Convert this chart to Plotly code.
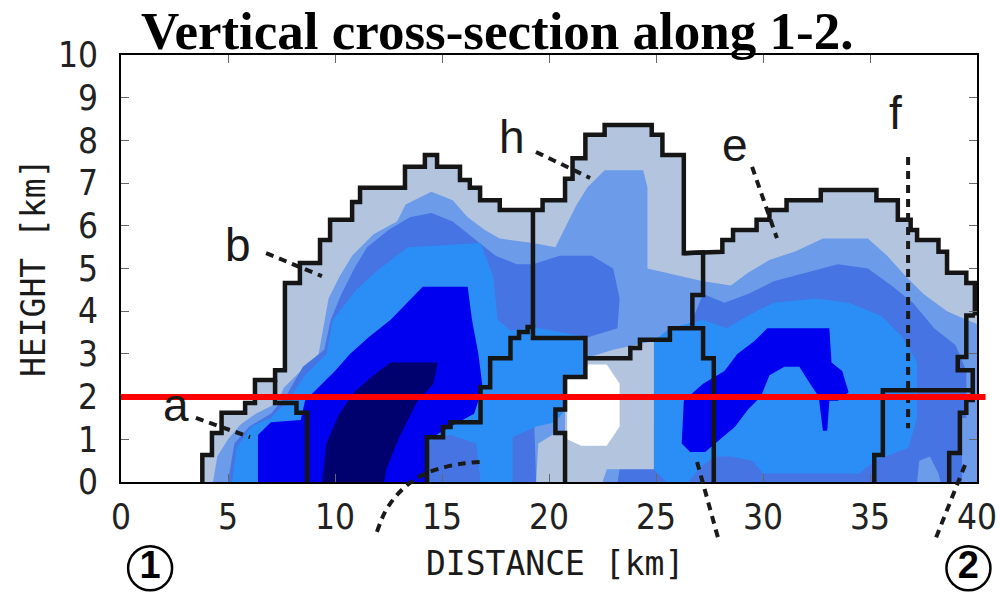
import plotly.graph_objects as go

# ---------------- axes / layout data ----------------
X_RANGE = [0, 40]
Y_RANGE = [0, 10]
X_TICKS = [0, 5, 10, 15, 20, 25, 30, 35, 40]
Y_TICKS = [0, 1, 2, 3, 4, 5, 6, 7, 8, 9, 10]
X_DOMAIN = [0.121, 0.977]
Y_DOMAIN = [1 - 482 / 596, 1 - 55 / 596]

TITLE = "Vertical cross-section along 1-2."
X_TITLE = "DISTANCE [km]"
Y_TITLE = "HEIGHT [km]"

# ---------------- echo field: colour regions (km, height km) ----------------
GREY_ENVELOPE = [(3.8, 0), (3.8, 0.63), (4.25, 0.63), (4.25, 1.15), (4.7, 1.15), (4.7, 1.62),
                 (5.8, 1.62), (5.8, 1.85), (6.26, 1.85), (6.26, 2.39), (7.2, 2.39), (7.2, 2.62),
                 (7.66, 2.62), (7.66, 4.66), (8.36, 4.66), (8.36, 5.13), (9.3, 5.13), (9.3, 5.67),
                 (9.77, 5.67), (9.77, 6.14), (10.8, 6.14), (10.8, 6.56), (11.17, 6.56), (11.17, 6.89),
                 (13.27, 6.89), (13.27, 7.38), (14.2, 7.38), (14.2, 7.66), (14.77, 7.66), (14.77, 7.38),
                 (15.84, 7.38), (15.84, 7.07), (16.3, 7.07), (16.3, 6.89), (16.78, 6.89), (16.78, 6.6),
                 (17.7, 6.6), (17.7, 6.37), (19.7, 6.37), (19.7, 6.6), (20.75, 6.6), (20.75, 7.1),
                 (21.1, 7.1), (21.1, 7.58), (21.7, 7.58), (21.7, 8.13), (22.6, 8.13), (22.6, 8.36),
                 (24.8, 8.36), (24.8, 8.13), (25.3, 8.13), (25.3, 7.66), (26.3, 7.66), (26.3, 5.36),
                 (28.1, 5.39), (28.1, 5.67), (28.6, 5.67), (28.6, 5.9), (29.7, 5.9), (29.7, 6.14),
                 (30.3, 6.14), (30.3, 6.37), (31.1, 6.37), (31.1, 6.6), (32.7, 6.6), (32.7, 6.84),
                 (35.3, 6.84), (35.3, 6.6), (36.3, 6.6), (36.3, 6.14), (36.9, 6.14), (36.9, 5.9),
                 (37.2, 5.9), (37.2, 5.67), (38.2, 5.67), (38.2, 5.39), (38.6, 5.39), (38.6, 4.9),
                 (39.5, 4.9), (39.5, 4.66), (40, 4.66), (40, 0)]

CORNFLOWER = [
    [(4.3, 0), (4.5, 0.6), (5.0, 1.0), (5.6, 1.35), (6.3, 1.6), (7.3, 1.85), (7.6, 2.2), (8.4, 2.6),
     (9.2, 2.9), (9.4, 3.5), (9.7, 4.3), (10.2, 4.8), (10.8, 5.3), (11.8, 5.8), (12.9, 6.1),
     (13.3, 6.5), (14.5, 6.8), (15.5, 6.6), (16.2, 6.2), (17.0, 5.9), (17.7, 5.7), (19.25, 5.6),
     (20.3, 5.5), (20.8, 6.0), (21.3, 6.5), (21.8, 6.9), (22.6, 7.3), (24.4, 7.3), (24.6, 6.9),
     (24.6, 5.0), (25.5, 4.9), (26.3, 4.8), (27.2, 4.7), (28.5, 4.6), (29.3, 4.9), (30.3, 5.2),
     (31.5, 5.4), (32.8, 5.7), (34.9, 5.7), (35.8, 5.3), (36.7, 4.8), (37.5, 4.4), (38.6, 4.0),
     (39.5, 3.8), (40, 3.7), (40, 0)],
]

ROYAL = [
    [(5.0, 0), (5.3, 0.9), (6.0, 1.3), (7.0, 1.6), (7.7, 2.0), (8.5, 2.7), (9.5, 3.1), (9.8, 3.8),
     (10.3, 4.4), (10.9, 5.0), (11.5, 5.5), (12.5, 5.9), (13.5, 6.2), (14.5, 6.3), (15.5, 6.1),
     (16.5, 5.7), (17.5, 5.3), (18.5, 5.1), (19.25, 5.1), (20.5, 5.3), (22.0, 5.3), (23.0, 5.0),
     (23.3, 4.3), (23.2, 3.6), (21.7, 3.37), (19.25, 3.4), (19.3, 1.5), (19.4, 0)],
    [(27.2, 4.4), (28.2, 4.2), (29.3, 4.4), (30.5, 4.7), (32.0, 4.9), (33.5, 5.1), (34.9, 5.0),
     (36.0, 4.6), (37.0, 4.2), (38.0, 3.6), (39.0, 3.2), (39.5, 2.6), (39.5, 0), (23.2, 0),
     (23.4, 0.6), (24.2, 1.0), (25.0, 1.4), (25.5, 2.5), (26.0, 3.3), (26.7, 3.8)],
]

DODGER = [
    [(5.2, 0), (5.4, 0.8), (6.1, 1.3), (7.0, 1.5), (7.8, 1.9), (8.6, 2.5), (9.6, 3.0), (9.9, 3.8),
     (11.0, 4.5), (12.0, 4.96), (13.4, 5.5), (16.8, 5.6), (17.4, 4.8), (17.6, 3.8), (18.2, 3.55),
     (19.25, 3.63), (21.7, 3.4), (21.7, 2.46), (20.75, 2.46), (20.75, 1.7), (20.3, 1.4),
     (19.4, 1.3), (18.3, 1.05), (18.3, 0), (16.8, 0), (16.6, 0.9), (15.4, 1.1), (14.5, 1.0),
     (13.8, 0)],
    [(24.9, 0.3), (24.9, 3.3), (25.65, 3.6), (26.5, 3.7), (27.2, 3.8), (28.3, 3.6), (29.3, 3.9),
     (30.5, 4.2), (32.5, 4.3), (34.0, 4.2), (35.5, 3.9), (36.5, 3.4), (37.2, 2.8), (37.2, 1.5),
     (36.8, 0.8), (35.2, 0.5), (34.5, 0.2), (30.0, 0.2), (29.5, 0.5), (28.5, 0.6), (27.7, 0.6),
     (27.0, 0.3), (26.5, 0), (25.5, 0)],
]

BLUE = [
    [(6.4, 0), (6.4, 1.1), (7.0, 1.4), (8.4, 1.45), (8.6, 1.9), (9.2, 2.2), (10.0, 2.6),
     (10.7, 3.0), (11.6, 3.4), (12.6, 3.8), (13.4, 4.2), (14.1, 4.57), (16.2, 4.57), (16.4, 3.8),
     (16.7, 3.0), (16.9, 2.2), (16.5, 1.6), (15.4, 1.3), (14.4, 1.0), (14.3, 0)],
    [(26.2, 0.9), (26.3, 1.9), (27.2, 2.3), (28.2, 2.6), (28.8, 3.0), (29.6, 3.3), (30.2, 3.6),
     (33.1, 3.6), (33.2, 2.8), (33.7, 2.6), (34.0, 2.1), (33.5, 1.9), (33.1, 1.9), (33.0, 1.2),
     (32.8, 1.2), (32.6, 2.0), (32.2, 2.3), (31.7, 2.7), (31.0, 2.7), (30.3, 2.5), (29.9, 2.0),
     (29.3, 1.7), (28.7, 1.3), (28.0, 1.0), (27.3, 0.7), (26.6, 0.7)],
]

NAVY = [
    [(9.4, 0), (9.6, 0.9), (10.2, 1.6), (10.9, 2.1), (11.8, 2.5), (12.6, 2.8), (14.8, 2.8),
     (14.6, 2.3), (13.8, 1.85), (13.0, 1.05), (12.4, 0.3), (12.3, 0)],
]

GREY_PATCH = [
    [(19.4, 0), (19.5, 0.9), (20.3, 1.15), (20.75, 1.15), (20.75, 2.46), (21.7, 2.46), (21.7, 2.9),
     (23.0, 3.1), (24.9, 3.3), (24.9, 0.3), (22.7, 0.3), (22.5, 0)],
]

CORNFLOWER_PATCH = [
    [(37.2, 0), (37.3, 0.5), (37.8, 0.6), (38.2, 0.2), (38.3, 0)],
    [(39.3, 0), (39.3, 1.5), (40, 1.5), (40, 0)],
]

WHITE_PATCH = [
    [(20.85, 1.0), (20.85, 2.4), (21.7, 2.5), (21.8, 2.75), (22.7, 2.75), (23.3, 2.3),
     (23.3, 1.3), (22.7, 0.85), (21.5, 0.85)],
]

COLOURS = {
    "grey": "#b3c4de", "cornflower": "#6b9be9", "royal": "#4674e3",
    "dodger": "#2b8ef6", "blue": "#0000f0", "navy": "#00006e", "white": "#ffffff",
}

# ---------------- black cell outlines ----------------
OUTLINE_OUTER = GREY_ENVELOPE[:-2] + [(39.9, 4.66), (39.9, 3.9)]
OUTLINE_A = [(7.2, 2.39), (7.2, 1.85), (8.2, 1.85), (8.2, 1.62), (8.7, 1.62), (8.7, 0)]
OUTLINE_BH = [(19.25, 6.37), (19.25, 3.63)]
OUTLINE_C = [(14.3, 0), (14.3, 1.05), (15.05, 1.05), (15.05, 1.29), (15.4, 1.29), (15.4, 1.4),
             (16.8, 1.4), (16.8, 2.22), (17.25, 2.22), (17.25, 2.9), (18.2, 2.9), (18.2, 3.37),
             (18.6, 3.37), (18.6, 3.51), (19.0, 3.51), (19.0, 3.63), (19.25, 3.63), (19.25, 3.37),
             (21.7, 3.37), (21.7, 2.46), (20.75, 2.46), (20.75, 1.7), (20.3, 1.7), (20.3, 1.15),
             (20.75, 1.15), (20.75, 0)]
OUTLINE_D = [(21.7, 2.9), (23.8, 2.9), (23.8, 3.14), (24.25, 3.14), (24.25, 3.33), (25.65, 3.33),
             (25.65, 3.6), (27.2, 3.6), (27.2, 2.9), (27.7, 2.9), (27.7, 0)]
OUTLINE_E = [(26.3, 5.36), (27.2, 5.38), (27.2, 4.38), (26.7, 4.38), (26.7, 3.6)]
OUTLINE_F = [(35.2, 0), (35.2, 0.63), (35.6, 0.63), (35.6, 2.15), (39.8, 2.15)]
OUTLINE_G = [(39.9, 3.9), (39.5, 3.9), (39.5, 2.93), (39.1, 2.93), (39.1, 2.62), (39.8, 2.62),
             (39.8, 1.92), (39.5, 1.92), (39.5, 1.62), (39.2, 1.62), (39.2, 0.68), (38.7, 0.68),
             (38.7, 0)]
OUTLINES = [OUTLINE_OUTER, OUTLINE_A, OUTLINE_BH, OUTLINE_C, OUTLINE_D, OUTLINE_E, OUTLINE_F, OUTLINE_G]

# ---------------- labels and leader lines ----------------
LABELS = ["a", "b", "c", "d", "e", "f", "g", "h"]
LABEL_X = [2.57, 5.47, 11.78, 28.32, 28.69, 36.17, 36.64, 18.27]
LABEL_Y = [1.80, 5.55, -1.62, -1.62, 7.89, 8.64, -1.52, 8.08]
LEADERS = {
    "a": [(3.5, 1.5), (6.03, 1.05)],
    "b": [(6.78, 5.36), (9.39, 4.82)],
    "c": [(11.96, -1.17), (12.34, -0.70), (12.85, -0.33), (13.5, -0.02), (14.2, 0.19),
          (15.14, 0.35), (16.07, 0.44), (16.78, 0.47)],
    "d": [(26.92, 0.47), (27.9, -1.31)],
    "e": [(29.49, 7.38), (30.65, 5.71)],
    "f": [(36.78, 7.61), (36.78, 1.26)],
    "g": [(39.44, 0.4), (38.04, -1.36)],
    "h": [(19.39, 7.73), (21.92, 7.12)],
}
RED_LINE_Y = 1.99
RED_LINE_X = [0, 40.4]

# end points "1" and "2" of the section, drawn as circled digits below the axis (km, km)
POINT_LABELS = ["1", "2"]
POINT_X = [1.36, 39.6]
POINT_Y = [-2.02, -2.02]

# ---------------- build figure ----------------
fig = go.Figure()


def flatten(polys):
    xs, ys = [], []
    for p in polys:
        xs += [q[0] for q in p] + [None]
        ys += [q[1] for q in p] + [None]
    return xs, ys


def add_fill(polys, colour):
    xs, ys = flatten(polys)
    fig.add_trace(go.Scatter(x=xs, y=ys, mode="lines", fill="toself", fillcolor=colour,
                             line=dict(width=0, color=colour), hoverinfo="skip",
                             showlegend=False, xaxis="x", yaxis="y"))


add_fill([GREY_ENVELOPE], COLOURS["grey"])
add_fill(CORNFLOWER, COLOURS["cornflower"])
add_fill(ROYAL, COLOURS["royal"])
add_fill(DODGER, COLOURS["dodger"])
add_fill(BLUE, COLOURS["blue"])
add_fill(NAVY, COLOURS["navy"])
add_fill(GREY_PATCH, COLOURS["grey"])
add_fill(CORNFLOWER_PATCH, COLOURS["cornflower"])
add_fill(WHITE_PATCH, COLOURS["white"])

ox, oy = flatten(OUTLINES)
fig.add_trace(go.Scatter(x=ox, y=oy, mode="lines", line=dict(color="#151515", width=4.5),
                         hoverinfo="skip", showlegend=False, xaxis="x", yaxis="y"))

# overlay axes spanning the whole page, aligned with the main axes scale
sx = (X_RANGE[1] - X_RANGE[0]) / (X_DOMAIN[1] - X_DOMAIN[0])
sy = (Y_RANGE[1] - Y_RANGE[0]) / (Y_DOMAIN[1] - Y_DOMAIN[0])
X2_RANGE = [X_RANGE[0] - X_DOMAIN[0] * sx, X_RANGE[0] - X_DOMAIN[0] * sx + sx]
Y2_RANGE = [Y_RANGE[0] - Y_DOMAIN[0] * sy, Y_RANGE[0] - Y_DOMAIN[0] * sy + sy]

for key, pts in LEADERS.items():
    fig.add_trace(go.Scatter(x=[p[0] for p in pts], y=[p[1] for p in pts], mode="lines",
                             line=dict(color="#1a1a1a", width=4, dash="8px,6px",
                                       shape="spline" if len(pts) > 2 else "linear"),
                             hoverinfo="skip", showlegend=False, xaxis="x2", yaxis="y2"))

fig.add_trace(go.Scatter(x=RED_LINE_X, y=[RED_LINE_Y, RED_LINE_Y], mode="lines",
                         line=dict(color="#ff0000", width=6), hoverinfo="skip",
                         showlegend=False, xaxis="x2", yaxis="y2"))

fig.add_trace(go.Scatter(x=POINT_X, y=POINT_Y, mode="markers+text", text=POINT_LABELS,
                         textposition="middle center",
                         textfont=dict(family="Liberation Sans, Arial, sans-serif", size=38,
                                       color="#000000", weight="bold"),
                         marker=dict(symbol="circle", size=44, color="white",
                                     line=dict(color="#000000", width=2.5)),
                         cliponaxis=False, hoverinfo="skip", showlegend=False,
                         xaxis="x2", yaxis="y2"))

TICK_FONT = dict(family="Liberation Sans Narrow, Arial Narrow, DejaVu Sans Condensed, sans-serif",
                 size=35, color="#222222")

annotations = []
for t, x, y in zip(LABELS, LABEL_X, LABEL_Y):
    annotations.append(dict(text=t, x=x, y=y, xref="x", yref="y", showarrow=False,
                            font=dict(family="Liberation Sans, Arial, sans-serif", size=46,
                                      color="#1a1a1a")))
annotations.append(dict(text=TITLE, x=0.497, y=1 - 31 / 596, xref="paper", yref="paper",
                        showarrow=False, xanchor="center", yanchor="middle",
                        font=dict(family="Liberation Serif, Times New Roman, serif", size=53,
                                  color="#000000", weight="bold")))
annotations.append(dict(text=X_TITLE, x=555 / 1000, y=1 - 563 / 596, xref="paper", yref="paper",
                        showarrow=False, xanchor="center", yanchor="middle",
                        font=dict(family="DejaVu Sans Mono, monospace", size=33, color="#1a1a1a")))
annotations.append(dict(text=Y_TITLE, x=33 / 1000, y=1 - 268 / 596, xref="paper", yref="paper",
                        showarrow=False, xanchor="center", yanchor="middle", textangle=-90,
                        font=dict(family="DejaVu Sans Mono, monospace", size=33, color="#1a1a1a")))

axis_common = dict(showgrid=False, zeroline=False, showline=True, linecolor="#000000",
                   linewidth=2, mirror="ticks", ticks="inside", ticklen=8, tickwidth=1,
                   tickcolor="#666666", tickfont=TICK_FONT, fixedrange=True, automargin=False)

fig.update_layout(
    template="none",
    width=1000, height=596,
    margin=dict(l=0, r=0, t=0, b=0, pad=0, autoexpand=False),
    paper_bgcolor="white", plot_bgcolor="rgba(0,0,0,0)",
    showlegend=False,
    xaxis=dict(range=X_RANGE, domain=X_DOMAIN, tickvals=X_TICKS, anchor="y",
               ticklabelstandoff=3, **axis_common),
    yaxis=dict(range=Y_RANGE, domain=Y_DOMAIN, tickvals=Y_TICKS, anchor="x",
               ticklabelstandoff=14, **axis_common),
    xaxis2=dict(range=X2_RANGE, domain=[0, 1], anchor="y2", visible=False, fixedrange=True,
                automargin=False),
    yaxis2=dict(range=Y2_RANGE, domain=[0, 1], anchor="x2", visible=False, fixedrange=True,
                automargin=False),
    annotations=annotations,
)

fig.write_html("out.html", config={"displayModeBar": False},
               post_script="document.body.style.margin='0';document.body.style.overflow='hidden';")
